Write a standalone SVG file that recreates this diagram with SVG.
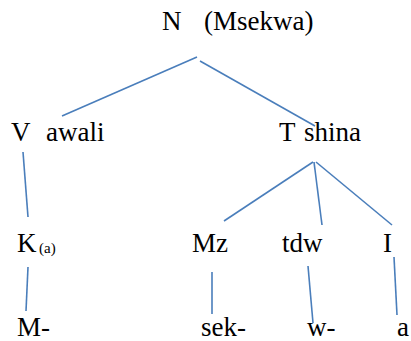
<svg xmlns="http://www.w3.org/2000/svg" width="411" height="341" viewBox="0 0 411 341">
<style>
.lbl{font-size:27px;fill:#000}
.sub{font-size:15px}
#connectors line{stroke:#4a7ebb;stroke-width:1.6;fill:none}
</style>
<rect width="411" height="341" fill="#fff"/>
<g id="connectors">
<line x1="197" y1="57" x2="62" y2="116"/>
<line x1="200" y1="61" x2="315" y2="126"/>
<line x1="23" y1="152" x2="28" y2="217"/>
<line x1="28" y1="267" x2="26" y2="311"/>
<line x1="313" y1="162" x2="224" y2="221"/>
<line x1="314" y1="162" x2="322" y2="225"/>
<line x1="316" y1="162" x2="392" y2="225"/>
<line x1="212" y1="272" x2="212" y2="314"/>
<line x1="308" y1="266" x2="313" y2="323"/>
<line x1="394" y1="257" x2="397" y2="315"/>
</g>
<g font-family="Liberation Serif, DejaVu Serif, serif" class="lbl">
<g id="node-N"><text x="162" y="30">N</text><text x="204" y="30">(Msekwa)</text></g>
<g id="node-V"><text x="11" y="141">V</text><text x="46" y="141">awali</text></g>
<g id="node-T"><text x="279" y="141">T</text><text x="304" y="141">shina</text></g>
<g id="node-K"><text x="17" y="252">K</text><text class="sub" x="39" y="253">(a)</text></g>
<g id="node-Mz"><text x="192" y="252">Mz</text></g>
<g id="node-tdw"><text x="282" y="252">tdw</text></g>
<g id="node-I"><text x="383" y="252">I</text></g>
<g id="node-M"><text x="17" y="336">M-</text></g>
<g id="node-sek"><text x="201" y="336">sek-</text></g>
<g id="node-w"><text x="307" y="336">w-</text></g>
<g id="node-a"><text x="397" y="336">a</text></g>
</g>
</svg>
